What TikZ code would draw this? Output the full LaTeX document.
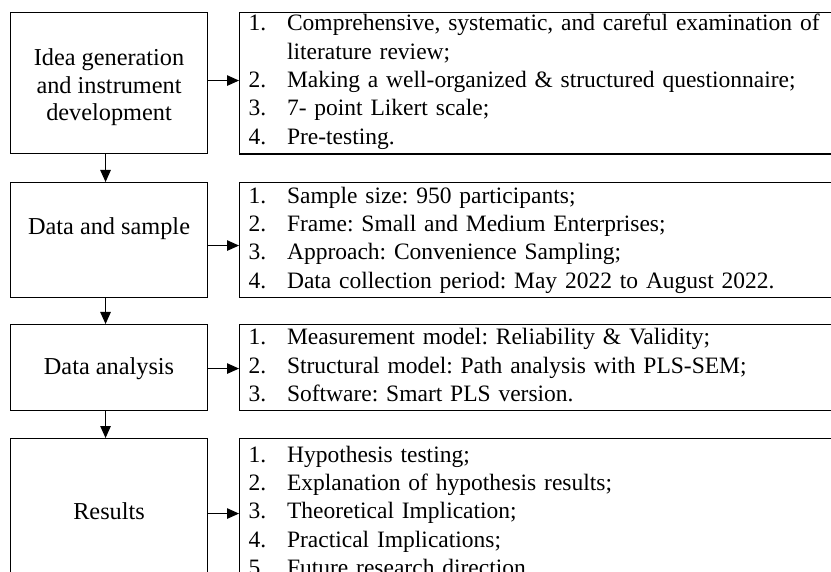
\documentclass[tikz,border=0pt]{standalone}
\usepackage{fontspec}
\setmainfont{Liberation Serif}
\usetikzlibrary{arrows.meta}
\frenchspacing

% list of numbered items: number column, then the item text
\newcommand{\steplist}[1]{\begin{tabular}{@{}p{38.5pt}@{}l@{}}#1\end{tabular}}
% move a block vertically without changing its size
\newcommand{\nudge}[2]{\raisebox{#1}[\height][\depth]{#2}}

\begin{document}
\begin{tikzpicture}[x=1pt,y=-1pt,
  stage/.style={draw, line width=1.1pt, anchor=north west,
    font=\fontsize{24.3}{28.3}\selectfont,
    minimum width=197pt, align=center, inner sep=0pt},
  detail/.style={draw, line width=1.1pt, anchor=north west,
    font=\fontsize{23.5}{28.3}\selectfont,
    text width=620pt, align=left, inner xsep=9pt, inner ysep=0pt},
  flow/.style={line width=1.1pt, -{Triangle[length=12pt,width=10.5pt]}}]

\useasboundingbox (0,0) rectangle (831,572);

% stages on the left
\node[stage, minimum height=141pt] (s1) at (10,12)
  {\nudge{-4.5pt}{\begin{tabular}{@{}c@{}}Idea generation\\[-0.8pt]and instrument\\[-0.8pt]development\end{tabular}}};
\node[stage, minimum height=115pt, text height=17pt, text depth=28pt] (s2) at (10,182)
  {Data and sample};
\node[stage, minimum height=86pt] (s3) at (10,324) {\nudge{-1.5pt}{Data analysis}};
\node[stage, minimum height=146pt] (s4) at (10,438) {Results};

% details on the right
\node[detail, minimum height=141pt] (d1) at (239,12) {\nudge{1.5pt}{\steplist{
  1. & Comprehensive, systematic, and careful examination of\\
     & literature review;\\
  2. & Making a well-organized \& structured questionnaire;\\
  3. & 7- point Likert scale;\\
  4. & Pre-testing.}}};
\node[detail, minimum height=115pt] (d2) at (239,182) {\steplist{
  1. & Sample size: 950 participants;\\
  2. & Frame: Small and Medium Enterprises;\\
  3. & Approach: Convenience Sampling;\\
  4. & Data collection period: May 2022 to August 2022.}};
\node[detail, minimum height=86pt] (d3) at (239,324) {\steplist{
  1. & Measurement model: Reliability \& Validity;\\
  2. & Structural model: Path analysis with PLS-SEM;\\
  3. & Software: Smart PLS version.}};
\node[detail, minimum height=146pt] (d4) at (239,438) {\nudge{-1.5pt}{\steplist{
  1. & Hypothesis testing;\\
  2. & Explanation of hypothesis results;\\
  3. & Theoretical Implication;\\
  4. & Practical Implications;\\
  5. & Future research direction.}}};

% stage to detail
\draw[flow] ([yshift=2.5pt]s1.east) -- ([yshift=2.5pt]s1.east -| d1.west);
\draw[flow] ([yshift=-5.5pt]s2.east) -- ([yshift=-5.5pt]s2.east -| d2.west);
\draw[flow] ([yshift=-1pt]s3.east) -- ([yshift=-1pt]s3.east -| d3.west);
\draw[flow] ([yshift=-2pt]s4.east) -- ([yshift=-2pt]s4.east -| d4.west);

% stage to stage
\draw[flow] ([xshift=-3.5pt]s1.south) -- ([xshift=-3.5pt]s2.north);
\draw[flow] ([xshift=-3.5pt]s2.south) -- ([xshift=-3.5pt]s3.north);
\draw[flow] ([xshift=-3.5pt]s3.south) -- ([xshift=-3.5pt]s4.north);
\end{tikzpicture}
\end{document}
